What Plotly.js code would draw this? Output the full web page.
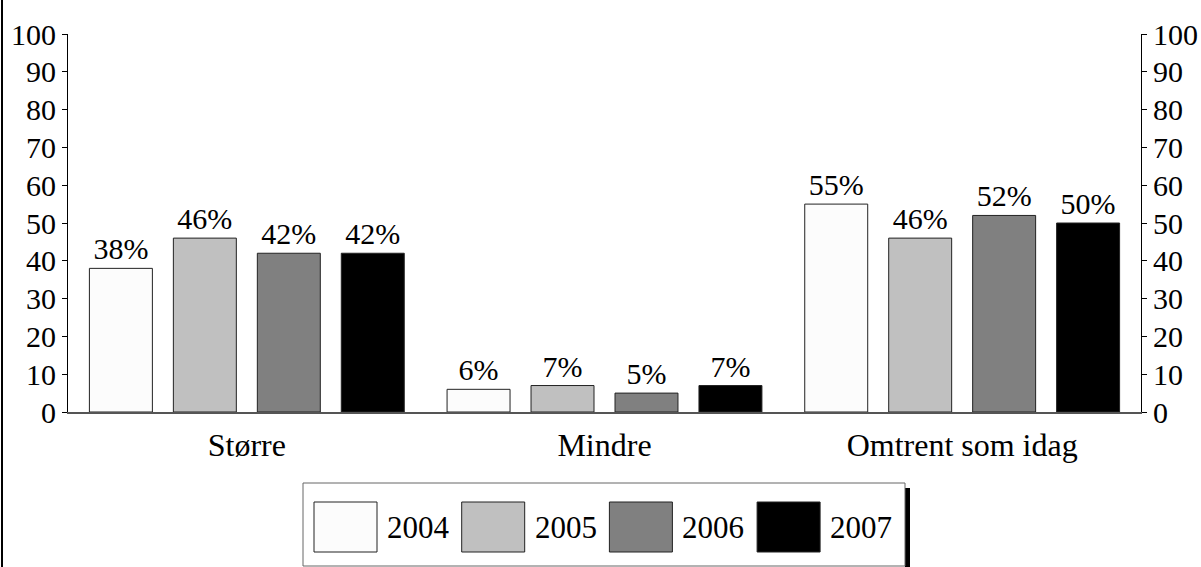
<!DOCTYPE html>
<html><head><meta charset="utf-8">
<script src="https://cdn.plot.ly/plotly-3.0.1.min.js"></script>
<style>html,body{margin:0;padding:0;background:#fff}#chart{width:1201px;height:567px}</style>
</head><body><div id="chart"></div>
<script>
const categories = ["Større", "Mindre", "Omtrent som idag"];
const years = ["2004", "2005", "2006", "2007"];
const values2004 = [38, 6, 55];
const values2005 = [46, 7, 46];
const values2006 = [42, 5, 52];
const values2007 = [42, 7, 50];
const yTicks = [0, 10, 20, 30, 40, 50, 60, 70, 80, 90, 100];

const series = [values2004, values2005, values2006, values2007];
const colors = ["#fcfcfc", "#c0c0c0", "#808080", "#000000"];
const FONT = "Liberation Serif";
const FS = 30;

const traces = series.map((vals, i) => ({
  type: "bar", name: years[i], x: categories, y: vals,
  marker: {color: colors[i], line: {color: "#222", width: 1}},
  text: vals.map(v => v + "%"), textposition: "outside",
  textfont: {family: FONT, size: FS, color: "#000"},
  cliponaxis: false, showlegend: false, hoverinfo: "skip"
}));
// invisible trace so the right-hand axis is drawn
traces.push({type: "scatter", mode: "markers", x: categories, y: values2004, yaxis: "y2",
  marker: {opacity: 0}, showlegend: false, hoverinfo: "skip"});

const W = 1201, H = 567;
const M = {l: 68, r: 60, t: 34, b: 155};
const PW = W - M.l - M.r, PH = H - M.t - M.b;
const px = x => (x - M.l) / PW, py = y => (H - M.b - y) / PH;

const shapes = [];
const annotations = [];
shapes.push({type: "rect", xref: "paper", yref: "paper", x0: px(905), x1: px(910), y0: py(488), y1: py(580), fillcolor: "#000", line: {width: 0}});
shapes.push({type: "rect", xref: "paper", yref: "paper", x0: px(303), x1: px(905), y0: py(483), y1: py(566), fillcolor: "#fff", line: {color: "#666", width: 1}});
shapes.push({type: "line", xref: "paper", yref: "paper", x0: px(2), x1: px(2), y0: py(0), y1: py(567), line: {color: "#000", width: 2}});
years.forEach((yr, i) => {
  const x0 = 314 + i * 147.7;
  shapes.push({type: "rect", xref: "paper", yref: "paper", x0: px(x0), x1: px(x0 + 63), y0: py(502), y1: py(552), fillcolor: colors[i], line: {color: "#222", width: 1}});
  annotations.push({xref: "paper", yref: "paper", x: px(x0 + 71), y: py(527), xanchor: "left", yanchor: "middle", text: yr, showarrow: false, font: {family: FONT, size: 31, color: "#000"}});
});

const axisY = {range: [0, 100], tickvals: yTicks, ticktext: yTicks.map(String), showline: true, linecolor: "#000", linewidth: 1,
  ticks: "outside", ticklen: 5, tickcolor: "#000", showgrid: false, zeroline: false,
  tickfont: {family: FONT, size: FS, color: "#000"}, fixedrange: true};

const layout = {
  width: W, height: H,
  margin: {l: M.l, r: M.r, t: M.t, b: M.b, pad: 0},
  paper_bgcolor: "#fff", plot_bgcolor: "#fff",
  barmode: "group", bargap: 0.061, bargroupgap: 0.25,
  font: {family: FONT, size: FS, color: "#000"},
  xaxis: {range: [-0.5, 2.5], showline: true, linecolor: "#555", linewidth: 1.5, ticks: "", showgrid: false, zeroline: false,
    tickfont: {family: FONT, size: 32, color: "#000"}, ticklabelstandoff: 4, fixedrange: true},
  yaxis: Object.assign({}, axisY),
  yaxis2: Object.assign({}, axisY, {overlaying: "y", side: "right"}),
  shapes: shapes, annotations: annotations, showlegend: false
};
Plotly.newPlot("chart", traces, layout, {staticPlot: true, displayModeBar: false});
</script></body></html>
